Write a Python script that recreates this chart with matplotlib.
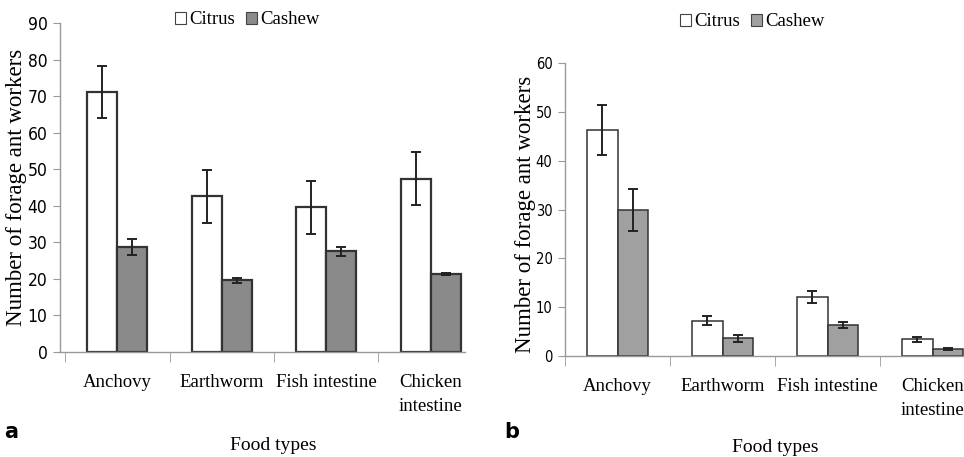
import numpy as np
import matplotlib.pyplot as plt
from matplotlib.patches import Patch

# data
foods = ['Anchovy', 'Earthworm', 'Fish intestine', 'Chicken\nintestine']
citrus_a = [71.1, 42.6, 39.6, 47.4]
citrus_a_err = [7.2, 7.2, 7.2, 7.3]
cashew_a = [28.7, 19.6, 27.5, 21.3]
cashew_a_err = [2.3, 0.6, 1.2, 0.3]

citrus_b = [46.3, 7.2, 12.1, 3.4]
citrus_b_err = [5.1, 0.9, 1.3, 0.45]
cashew_b = [29.9, 3.6, 6.4, 1.4]
cashew_b_err = [4.3, 0.7, 0.6, 0.2]

serif = 'Liberation Serif'

W, H = 964, 457
fig = plt.figure(figsize=(W/100, H/100), dpi=100)

def box(x0, y0, x1, y1):
    # pixel box -> figure fraction
    return [x0/W, 1 - y1/H, (x1-x0)/W, (y1-y0)/H]

def panel(ax, cit, cit_err, cas, cas_err, ymax, ystep, xlim, gray, tsize, lw):
    x = np.arange(len(foods))
    w = 0.287
    ax.bar(x - w/2, cit, w, color='white', edgecolor='#333333', linewidth=lw, zorder=2)
    ax.bar(x + w/2, cas, w, color=gray, edgecolor='#333333', linewidth=lw, zorder=2)
    ax.errorbar(x - w/2, cit, yerr=cit_err, fmt='none', ecolor='#222222',
                elinewidth=1.4, capsize=3.5, capthick=1.4, zorder=3)
    ax.errorbar(x + w/2, cas, yerr=cas_err, fmt='none', ecolor='#222222',
                elinewidth=1.4, capsize=3.5, capthick=1.4, zorder=3)
    ax.set_yticks(np.arange(0, ymax + 1, ystep))
    for lab in ax.get_yticklabels():
        lab.set_family('DejaVu Sans')
        lab.set_fontstretch('condensed')
        lab.set_fontsize(tsize)
    ax.set_xticks(x)
    ax.set_xticklabels(foods, family=serif, fontsize=13.5, linespacing=1.55)
    ax.tick_params(axis='x', which='major', length=0, pad=16)
    ax.set_xticks(np.arange(-0.5, len(foods) - 0.4, 1), minor=True)
    ax.tick_params(axis='x', which='minor', length=7, color='#999999', direction='out')
    ax.tick_params(axis='y', length=5, color='#999999', pad=4)
    # limits last, set_xticks would widen them
    ax.set_ylim(0, ymax)
    ax.set_xlim(*xlim)
    for s in ['top', 'right']:
        ax.spines[s].set_visible(False)
    for s in ['left', 'bottom']:
        ax.spines[s].set_color('#999999')
        ax.spines[s].set_linewidth(1.0)

ax1 = fig.add_axes(box(60, 23, 465, 352))
panel(ax1, citrus_a, citrus_a_err, cashew_a, cashew_a_err, 90, 10,
      (-0.55, 3.33), '#8a8a8a', 12.5, 1.6)
ax2 = fig.add_axes(box(565, 63, 964, 356))
panel(ax2, citrus_b, citrus_b_err, cashew_b, cashew_b_err, 60, 10,
      (-0.5, 3.3), '#a0a0a0', 10.5, 1.1)

# y labels
fig.text(17/W, 1 - 187/H, 'Number of forage ant workers', rotation=90,
         ha='center', va='center', family=serif, fontsize=16.5)
fig.text(526/W, 1 - 214/H, 'Number of forage ant workers', rotation=90,
         ha='center', va='center', family=serif, fontsize=16.5)

# x labels
fig.text(273/W, 1 - 445/H, 'Food types', ha='center', va='center',
         family=serif, fontsize=14)
fig.text(775/W, 1 - 447/H, 'Food types', ha='center', va='center',
         family=serif, fontsize=14)

# panel letters
fig.text(11/W, 1 - 432/H, 'a', ha='center', va='center',
         fontweight='bold', fontsize=15, family='DejaVu Sans')
fig.text(512/W, 1 - 432/H, 'b', ha='center', va='center',
         fontweight='bold', fontsize=15, family='DejaVu Sans')

# legends
handles = [Patch(facecolor='white', edgecolor='#444444', linewidth=0.8, label='Citrus'),
           Patch(facecolor='#8a8a8a', edgecolor='#444444', linewidth=0.8, label='Cashew')]
fig.legend(handles=handles, loc='center', bbox_to_anchor=(247/W, 1 - 20/H),
           ncol=2, frameon=False, prop={'family': serif, 'size': 13.5},
           handlelength=0.6, handleheight=0.6, handletextpad=0.15, columnspacing=0.6)
handles_b = [Patch(facecolor='white', edgecolor='#444444', linewidth=0.8, label='Citrus'),
             Patch(facecolor='#a0a0a0', edgecolor='#444444', linewidth=0.8, label='Cashew')]
fig.legend(handles=handles_b, loc='center', bbox_to_anchor=(752/W, 1 - 22/H),
           ncol=2, frameon=False, prop={'family': serif, 'size': 13.5},
           handlelength=0.6, handleheight=0.6, handletextpad=0.15, columnspacing=0.6)

fig.savefig('out.png', dpi=100)
